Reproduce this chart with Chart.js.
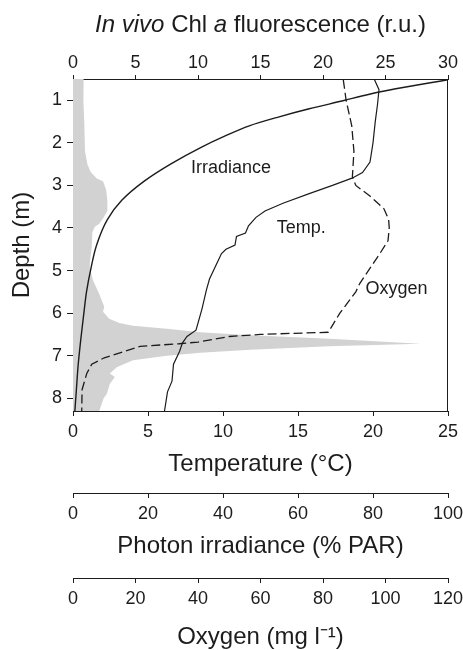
<!DOCTYPE html>
<html>
<head>
<meta charset="utf-8">
<script src="https://cdn.jsdelivr.net/npm/chart.js@4.4.1/dist/chart.umd.min.js"></script>
<style>
    html, body { margin: 0; padding: 0; background: #fff; }
    canvas { display: block; }
</style>
</head>
<body>
<canvas id="profileChart" width="463" height="650"></canvas>
<script>
// depth profiles (depth in m)
const fluorDepth = [0.5, 1.0, 1.5, 2.2, 2.5, 2.68, 2.84, 2.9, 3.1, 3.35, 3.6, 3.78, 3.9, 3.97, 4.1, 4.45, 4.8, 4.95, 5.23, 5.55, 5.85, 5.97, 6.13, 6.23, 6.3, 6.37, 6.45, 6.52, 6.6, 6.72, 6.78, 6.86, 6.93, 7.0, 7.11, 7.27, 7.42, 7.5, 7.66, 7.9, 8.0, 8.13, 8.3];
const fluorValue = [0.85, 0.83, 0.9, 0.96, 1.15, 1.4, 1.9, 2.4, 2.65, 2.75, 2.75, 2.4, 2.1, 1.75, 1.55, 1.5, 1.35, 1.35, 1.6, 2.1, 2.5, 2.4, 2.9, 3.7, 4.8, 7.5, 10.2, 14.2, 20.5, 27.8, 20.5, 14.2, 10.2, 7.5, 4.8, 3.5, 2.95, 3.35, 2.95, 2.7, 2.45, 2.3, 2.1];

const tempDepth = [0.52, 0.75, 1.1, 1.5, 2.0, 2.45, 2.7, 2.83, 3.0, 3.2, 3.42, 3.6, 3.75, 3.95, 4.12, 4.2, 4.4, 4.5, 4.6, 4.9, 5.2, 5.45, 5.9, 6.4, 6.55, 6.7, 6.9, 7.2, 7.6, 7.85, 8.3];
const tempValue = [20.1, 20.4, 20.3, 20.15, 20.0, 19.8, 19.3, 18.6, 17.3, 15.7, 14.0, 12.8, 12.2, 11.7, 11.5, 10.9, 10.8, 10.2, 9.9, 9.5, 9.1, 8.9, 8.6, 8.2, 7.6, 7.3, 7.1, 6.7, 6.6, 6.3, 6.1];

const parDepth = [0.52, 0.6, 0.7, 0.8, 0.9, 1.0, 1.2, 1.4, 1.6, 1.85, 2.1, 2.5, 2.9, 3.35, 3.8, 4.4, 4.9, 5.5, 6.0, 6.6, 7.2, 7.8, 8.3];
const parValue = [100, 94.5, 88, 82, 77, 72.5, 63, 54.5, 47, 40.3, 34.3, 26, 19, 13, 9.2, 6.3, 4.9, 3.6, 2.9, 2.1, 1.4, 0.9, 0.5];

const oxyDepth = [0.52, 1.0, 1.6, 2.2, 2.8, 3.0, 3.25, 3.55, 3.8, 4.0, 4.3, 4.6, 4.95, 5.3, 5.5, 6.0, 6.45, 6.5, 6.55, 6.68, 6.72, 6.78, 6.9, 7.05, 7.2, 7.42, 7.8, 8.3];
const oxyValue = [86.5, 87.4, 89.2, 89.9, 89.4, 90.5, 95, 99.5, 101, 101.2, 100.8, 98.2, 95, 91.8, 90.5, 85.4, 81.7, 60, 50, 40, 34, 21.5, 16.5, 10, 6.0, 4.4, 2.9, 2.8];

const curveLabels = [
    { text: 'Irradiance', x: 9.44, depth: 2.59 },
    { text: 'Temp.', x: 16.3, depth: 3.99 },
    { text: 'Oxygen', x: 23.4, depth: 5.44 }
];

const ink = '#1c1c1c';
const FONT = "'Liberation Sans', Arial, Helvetica, sans-serif";

const pts = (ys, xs) => ys.map((y, i) => ({ x: xs[i], y }));

// pin the size of each axis band so the plot box lands where the figure has it
function fixHeight(h) {
    return scale => {
        scale.height = h;
        scale.paddingLeft = 0;
        scale.paddingRight = 0;
    };
}

function xAxis(pos, weight, min, max, step, text, tickLen, pad, titlePad, bandHeight) {
    return {
        type: 'linear',
        position: pos,
        weight: weight,
        min: min,
        max: max,
        afterFit: fixHeight(bandHeight),
        border: { display: true, color: ink, width: 1 },
        grid: { drawOnChartArea: false, drawTicks: true, tickLength: tickLen, color: ink, lineWidth: 1 },
        ticks: {
            stepSize: step, padding: pad, color: ink, maxRotation: 0, autoSkip: false,
            font: { family: FONT, size: 18 }
        },
        title: {
            display: true, text: text, color: ink, padding: titlePad,
            font: { family: FONT, size: 24, lineHeight: 1 }
        }
    };
}

const fluorAxis = xAxis('top', 0, 0, 30, 5, 'In vivo Chl a fluorescence (r.u.)', 4, 1, { top: 13.8, bottom: 14.6 }, 79);
fluorAxis.title.color = 'rgba(0,0,0,0)';   // drawn by the plugin below, with italics

const ctx = document.getElementById('profileChart').getContext('2d');

new Chart(ctx, {
    type: 'scatter',
    data: {
        datasets: [
            {
                label: 'Irradiance',
                data: pts(parDepth, parValue),
                xAxisID: 'par', yAxisID: 'y',
                indexAxis: 'y', cubicInterpolationMode: 'monotone',
                showLine: true, borderColor: ink, borderWidth: 1.4,
                pointRadius: 0, order: 1
            },
            {
                label: 'Temp.',
                data: pts(tempDepth, tempValue),
                xAxisID: 'temp', yAxisID: 'y',
                showLine: true, borderColor: ink, borderWidth: 1.2,
                pointRadius: 0, tension: 0, order: 1
            },
            {
                label: 'Oxygen',
                data: pts(oxyDepth, oxyValue),
                xAxisID: 'oxy', yAxisID: 'y',
                showLine: true, borderColor: ink, borderWidth: 1.3, borderDash: [9, 4],
                pointRadius: 0, tension: 0, order: 1
            },
            {
                label: 'Chl a fluorescence',
                data: pts(fluorDepth, fluorValue),
                xAxisID: 'fluor', yAxisID: 'y',
                indexAxis: 'y',
                showLine: true, borderWidth: 0, borderColor: 'rgba(0,0,0,0)',
                backgroundColor: '#d2d2d2', fill: 'origin',
                pointRadius: 0, tension: 0, order: 10
            }
        ]
    },
    options: {
        responsive: false,
        animation: false,
        layout: { padding: { top: 0, right: 15, bottom: 0, left: 0 } },
        plugins: {
            legend: { display: false },
            tooltip: { enabled: false }
        },
        scales: {
            y: {
                type: 'linear',
                position: 'left',
                reverse: true,
                min: 0.5,
                max: 8.3,
                afterFit: scale => { scale.width = 73; },
                border: { display: true, color: ink, width: 1 },
                grid: { drawOnChartArea: false, drawTicks: true, tickLength: 6, color: ink },
                ticks: {
                    stepSize: 1, includeBounds: false, padding: 5, color: ink,
                    font: { family: FONT, size: 18 }
                },
                title: {
                    display: true, text: 'Depth (m)', color: ink, padding: { top: 10, bottom: 18 },
                    font: { family: FONT, size: 24, lineHeight: 1 }
                }
            },
            fluor: fluorAxis,
            temp: xAxis('bottom', 0, 0, 25, 5, 'Temperature (°C)', 5, 5, { top: 9.4, bottom: 17 }, 82),
            par: xAxis('bottom', 1, 0, 100, 20, 'Photon irradiance (% PAR)', 5, 5, { top: 10.1, bottom: 19.3 }, 85),
            oxy: xAxis('bottom', 2, 0, 120, 20, 'Oxygen (mg l\u207B\u00B9)', 5, 5, { top: 15, bottom: 1 }, 72)
        }
    },
    plugins: [{
        id: 'frameAndText',
        afterDatasetsDraw: chart => {
            const c = chart.ctx;
            const a = chart.chartArea;
            const fx = chart.scales.fluor;
            const y = chart.scales.y;

            c.save();
            // right edge of the box
            c.strokeStyle = ink;
            c.lineWidth = 1;
            c.beginPath();
            c.moveTo(Math.round(a.right) - 0.5, a.top);
            c.lineTo(Math.round(a.right) - 0.5, a.bottom);
            c.stroke();

            // curve names
            c.fillStyle = ink;
            c.font = '18px ' + FONT;
            c.textAlign = 'left';
            c.textBaseline = 'middle';
            curveLabels.forEach(l => {
                c.fillText(l.text, fx.getPixelForValue(l.x), y.getPixelForValue(l.depth));
            });
            c.restore();
        },
        afterDraw: chart => {
            // top axis title with italic parts
            const c = chart.ctx;
            const s = chart.scales.fluor;
            const parts = [
                { t: 'In vivo', it: true },
                { t: ' Chl ', it: false },
                { t: 'a', it: true },
                { t: ' fluorescence (r.u.)', it: false }
            ];
            c.save();
            c.fillStyle = ink;
            c.textBaseline = 'middle';
            c.textAlign = 'left';
            let total = 0;
            parts.forEach(p => {
                c.font = (p.it ? 'italic ' : '') + '24px ' + FONT;
                p.w = c.measureText(p.t).width;
                total += p.w;
            });
            let x = (s.left + s.right) / 2 - total / 2;
            const ty = s.top + 13.8 + 12;
            parts.forEach(p => {
                c.font = (p.it ? 'italic ' : '') + '24px ' + FONT;
                c.fillText(p.t, x, ty);
                x += p.w;
            });
            c.restore();
        }
    }]
});
</script>
</body>
</html>
